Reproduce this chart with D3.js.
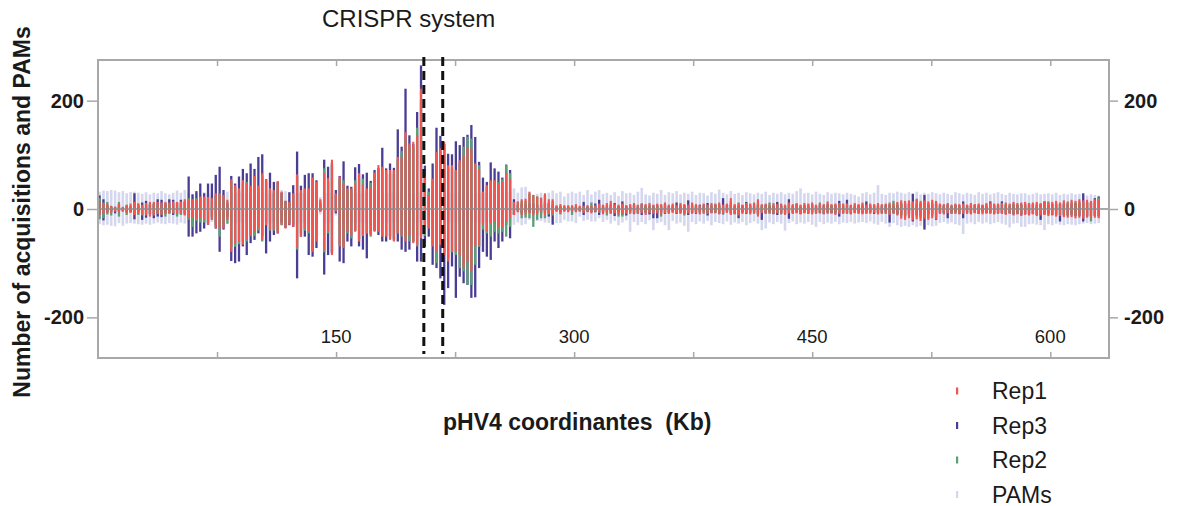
<!DOCTYPE html>
<html>
<head>
<meta charset="utf-8">
<script src="https://cdn.jsdelivr.net/npm/d3@7"></script>
<style>
  html, body { margin: 0; background: #fff; }
  svg { display: block; }
  text { font-family: "Liberation Sans", Arial, Helvetica, sans-serif; fill: #1a1a1a; }
</style>
</head>
<body>
<svg id="chart" width="1179" height="506"></svg>
<script>
// Acquisition counts per 2.44 kb bin along pHV4: [plus strand, minus strand].
// Plus counts are drawn above zero, minus counts below.
const BIN_KB = 2.44;
const FIRST_BIN_KB = 1.0;

const rep1 = [
  [14,11],[10,8],[9,8],[6,7],[4,5],[9,6],[4,5],[7,7],[10,7],[13,11],[10,9],[8,10],[11,12],[13,14],[13,11],[13,8],[12,11],[13,9],[12,7],[14,8],[13,8],[14,9],[18,12],
  [18,17],[18,16],[18,18],[23,17],[23,20],[21,29],[20,20],[29,36],[29,36],[26,36],[17,20],
  [55,79],[44,63],[38,60],[53,66],[47,57],[43,48],[61,42],[43,36],[66,57],[55,30],[38,39],
  [35,39],[50,45],[32,29],[15,36],[13,29],[29,33],[64,71],[35,51],[38,36],[38,42],[58,79],[50,60],
  [18,5],[66,76],[57,42],[91,85],[29,5],[60,69],[47,72],[38,42],[38,48],[47,42],[66,60],
  [45,48],[38,45],[41,48],[67,42],[81,42],[78,51],[72,51],[72,57],[72,60],[96,45],[96,48],
  [142,60],[121,48],[124,63],[136,66],[222,54],[60,45],
  [26,36],[56,69],[105,79],[112,66],[124,85],[81,97],[81,79],[72,79],[90,85],[99,109],[113,97],
  [111,115],[84,69],[72,66],[32,29],[44,42],[53,26],[53,23],[47,33],[50,35],[66,23],[55,17],
  [13,11],[13,6],[18,11],[19,10],[32,8],[26,12],[23,10],[20,5],[29,11],[18,8],[18,10],
  [7,4],[9,8],[7,5],[7,6],[7,5],[9,6],[6,5],[6,7],[7,6],[7,8],[7,5],[10,6],
  [8,10],[11,7],[15,9],[9,8],[8,10],[10,8],[7,9],[9,7],[11,10],[8,7],
  [10,8],[9,11],[11,7],[8,9],[10,8],[9,10],[12,8],[8,9],[10,7],[7,8],
  [11,9],[9,10],[8,7],[12,9],[9,8],[7,10],[10,7],[8,9],[11,8],[9,7],
  [12,10],[8,9],[10,7],[20,11],[9,8],[10,12],[8,9],[11,8],[9,10],[12,7],
  [18,14],[9,8],[10,9],[8,7],[11,10],[9,8],[10,9],[8,11],[12,8],[9,9],
  [10,7],[8,10],[11,8],[9,9],[12,10],[8,8],[10,7],[9,10],[14,9],[9,8],
  [10,11],[11,9],[9,8],[10,9],[8,10],[11,8],[9,9],[12,10],[8,8],[10,9],
  [9,7],[11,10],[9,9],[10,8],[12,11],[11,9],[13,12],[16,18],[15,20],[16,17],
  [14,21],[17,19],[15,22],[16,18],[14,20],[17,17],[15,19],[10,9],[9,10],[11,8],
  [8,9],[10,8],[9,10],[10,9],[8,8],[11,10],[9,8],[10,9],[8,10],[11,8],
  [12,9],[10,10],[9,8],[11,9],[12,11],[10,9],[13,12],[11,10],[12,13],[13,11],
  [11,12],[12,10],[13,13],[11,12],[14,11],[12,13],[13,12],[15,14],[12,13],[16,15],
  [14,16],[17,15],[15,17],[18,16],[16,18],[17,16],[15,17],[18,16],[18,17]
];

const rep2 = [
  [20,19],[12,17],[13,10],[5,12],[3,4],[13,14],[3,3],[8,11],[6,5],[9,10],[10,11],[6,12],[8,9],[10,10],[9,12],[10,9],[8,9],[11,14],[9,9],[10,8],[10,14],[11,11],[13,10],
  [20,20],[18,33],[20,22],[20,25],[20,25],[22,25],[14,20],[25,30],[28,51],[22,30],[14,27],
  [50,70],[40,70],[35,65],[48,60],[50,60],[40,50],[55,50],[40,40],[60,60],[50,27],[35,40],
  [30,40],[45,40],[28,30],[14,30],[12,25],[25,30],[60,75],[30,45],[35,40],[35,45],[55,75],[45,55],
  [15,3],[75,80],[50,45],[80,80],[25,3],[55,65],[53,70],[35,45],[35,54],[53,40],[60,55],
  [56,50],[35,45],[48,51],[62,40],[75,40],[70,50],[65,50],[65,55],[65,55],[90,45],[107,51],
  [130,55],[115,60],[115,60],[150,69],[200,50],[55,50],
  [32,35],[50,65],[100,100],[105,65],[110,80],[75,90],[75,80],[70,85],[85,109],[115,115],[133,140],
  [130,140],[80,103],[81,70],[30,38],[40,45],[50,51],[50,42],[50,45],[55,42],[81,51],[66,33],
  [12,10],[14,5],[15,17],[15,16],[28,17],[26,33],[23,20],[21,17],[25,17],[12,10],[15,12],
  [5,5],[6,10],[5,4],[5,4],[5,11],[6,5],[4,4],[4,5],[5,5],[12,6],[5,4],[8,7],
  [6,8],[8,12],[10,6],[7,6],[6,14],[8,14],[5,6],[7,9],[8,7],[6,9],
  [7,6],[7,8],[8,6],[7,6],[6,7],[7,14],[9,7],[6,8],[8,6],[5,6],
  [8,7],[7,12],[6,8],[9,7],[7,6],[5,8],[8,9],[6,7],[8,6],[10,8],
  [9,7],[6,8],[8,6],[14,9],[7,10],[12,8],[6,7],[8,6],[10,8],[9,9],
  [12,10],[7,6],[8,7],[12,9],[8,8],[7,6],[8,10],[6,8],[9,7],[7,6],
  [8,8],[6,7],[8,6],[10,8],[9,7],[6,9],[12,6],[7,8],[10,7],[7,6],
  [8,9],[8,7],[10,9],[8,7],[6,8],[8,6],[7,8],[9,7],[6,9],[8,7],
  [7,6],[8,8],[7,7],[8,9],[9,8],[15,7],[10,9],[12,14],[11,15],[12,13],
  [11,16],[19,14],[12,17],[13,14],[11,17],[13,13],[12,15],[8,7],[7,8],[8,6],
  [6,7],[8,9],[7,8],[8,7],[6,9],[8,7],[7,6],[8,8],[6,7],[9,6],
  [9,8],[8,7],[10,9],[8,7],[9,8],[8,7],[10,9],[8,8],[9,10],[10,9],
  [8,9],[9,8],[10,10],[8,9],[11,8],[14,10],[10,9],[11,11],[9,10],[12,12],
  [11,12],[13,12],[12,13],[14,13],[12,14],[13,12],[12,23],[14,13],[21,14]
];

const rep3 = [
  [25,8],[18,21],[6,6],[4,5],[4,8],[8,5],[2,4],[5,6],[4,6],[29,19],[6,5],[12,20],[15,16],[8,9],[10,17],[18,14],[17,15],[10,8],[18,8],[17,11],[12,10],[17,8],[14,10],
  [60,51],[27,51],[33,45],[47,42],[29,36],[47,29],[47,15],[63,36],[78,79],[35,38],[10,15],
  [61,96],[47,100],[60,97],[74,69],[66,85],[84,63],[74,57],[96,45],[101,50],[55,82],[67,60],
  [50,48],[51,45],[30,25],[15,35],[31,30],[44,33],[106,128],[43,51],[63,51],[66,85],[66,88],[53,72],
  [10,4],[91,121],[78,85],[85,82],[35,8],[61,97],[88,100],[43,60],[41,69],[77,40],[83,69],
  [64,75],[67,91],[52,45],[72,40],[75,48],[113,60],[75,60],[84,50],[76,58],[147,60],[115,75],
  [222,79],[136,75],[120,60],[179,97],[265,97],[80,70],
  [38,51],[84,103],[150,109],[135,128],[120,177],[102,146],[101,106],[125,164],[118,125],[133,137],[137,140],
  [155,164],[133,163],[87,109],[58,79],[50,88],[86,94],[75,60],[69,72],[58,60],[82,30],[72,54],
  [18,11],[8,3],[10,8],[8,5],[10,6],[10,8],[8,6],[8,8],[12,6],[10,14],[8,29],
  [4,3],[5,5],[3,3],[4,3],[4,4],[4,3],[3,3],[13,11],[4,4],[4,5],[10,6],[17,11],
  [5,6],[4,5],[6,8],[11,13],[5,6],[14,11],[6,12],[4,5],[8,9],[5,8],
  [10,11],[6,7],[5,10],[5,17],[7,17],[5,6],[8,9],[5,7],[6,5],[12,9],
  [5,6],[7,8],[16,11],[6,7],[5,9],[8,6],[6,5],[11,12],[5,7],[7,6],
  [6,9],[20,10],[7,5],[8,7],[5,9],[6,17],[7,6],[13,9],[6,7],[5,6],
  [8,9],[6,20],[7,8],[5,6],[6,9],[13,11],[6,7],[5,9],[18,18],[6,8],
  [10,6],[5,9],[7,7],[6,8],[8,6],[5,7],[7,8],[6,9],[8,6],[6,8],
  [7,7],[15,14],[6,7],[17,8],[6,9],[5,7],[7,6],[6,8],[14,7],[6,6],
  [7,9],[5,7],[6,8],[7,6],[8,25],[6,8],[7,10],[9,11],[8,12],[10,9],
  [28,23],[9,11],[10,12],[26,38],[8,10],[9,9],[10,20],[7,8],[6,7],[8,17],
  [5,8],[7,6],[6,9],[14,17],[7,6],[6,8],[8,7],[6,9],[7,6],[5,8],
  [14,7],[7,9],[6,7],[14,8],[7,9],[6,8],[8,10],[7,9],[8,11],[7,9],
  [10,10],[8,9],[7,11],[9,20],[14,10],[8,9],[9,11],[8,10],[10,23],[9,11],
  [10,12],[9,11],[11,13],[10,12],[29,23],[12,14],[11,13],[20,12],[23,13]
];

const pams = [
  [32,28],[34,30],[33,29],[35,31],[34,32],[31,26],[33,31],[29,27],[31,26],[32,27],[30,28],[28,29],[31,27],[27,29],[30,27],[29,25],[33,27],[29,28],[27,26],[30,27],[34,29],[30,25],[35,27],
  [30,25],[28,26],[30,24],[27,25],[31,27],[28,26],[30,24],[27,28],[30,26],[29,25],[32,28],
  [30,26],[28,27],[31,25],[29,27],[30,26],[28,24],[30,27],[31,25],[29,26],[30,24],[28,27],
  [30,25],[32,28],[35,30],[33,27],[30,26],[31,28],[30,27],[29,25],[30,26],[28,27],[30,25],[29,26],
  [22,10],[30,27],[29,26],[30,25],[28,12],[30,26],[29,27],[30,25],[28,26],[30,27],[29,25],
  [30,26],[31,27],[29,25],[30,26],[28,27],[30,25],[29,26],[30,27],[31,25],[29,26],[30,27],
  [28,25],[30,26],[29,27],[30,25],[31,26],[30,26],
  [30,25],[29,26],[30,27],[28,25],[30,26],[29,27],[30,25],[31,26],[29,27],[30,25],[28,26],
  [30,27],[29,25],[30,26],[31,27],[29,25],[30,26],[28,27],[30,25],[29,26],[30,27],[31,25],
  [38,29],[30,25],[40,30],[41,28],[30,20],[25,22],[28,22],[30,22],[26,25],[30,26],[34,25],
  [29,26],[32,26],[23,20],[29,23],[32,23],[29,26],[32,14],[26,22],[35,20],[27,23],[32,23],[35,17],
  [28,24],[30,20],[26,27],[31,22],[24,30],[33,25],[29,21],[30,42],[26,24],[32,30],
  [39,24],[27,28],[25,21],[30,39],[28,26],[35,24],[26,30],[31,39],[29,22],[33,27],
  [27,25],[30,31],[28,42],[32,24],[26,28],[30,23],[29,27],[25,22],[31,30],[28,24],
  [36,26],[30,28],[27,23],[33,29],[28,25],[30,27],[26,24],[31,30],[29,26],[27,23],
  [30,27],[28,39],[32,36],[26,25],[30,28],[28,24],[31,27],[27,40],[30,26],[28,23],
  [33,28],[38,25],[29,27],[30,24],[27,29],[32,33],[28,24],[26,28],[31,25],[28,27],
  [30,24],[29,28],[27,25],[30,26],[28,24],[26,27],[23,25],[29,24],[31,26],[27,23],
  [30,27],[44,29],[28,24],[26,27],[30,33],[29,26],[32,30],[30,33],[28,31],[31,33],
  [29,30],[32,33],[27,31],[30,33],[28,30],[31,32],[29,31],[27,26],[30,24],[28,27],
  [26,25],[31,28],[29,30],[27,46],[30,27],[28,25],[26,28],[31,24],[28,27],[30,25],
  [27,28],[29,26],[31,24],[28,27],[26,29],[30,34],[28,27],[27,26],[29,33],[29,33],
  [26,28],[28,27],[30,29],[27,30],[28,39],[29,28],[27,30],[30,27],[26,29],[28,30],
  [27,28],[29,29],[27,30],[28,28],[26,27],[25,26],[27,28],[26,27],[25,26]
];

// CRISPR locus boundaries (kb)
const crisprKb = [205.3, 217.2];

const xTickKb = [75, 150, 225, 300, 375, 450, 525, 600];
const xLabelKb = [150, 300, 450, 600];
const yTicks = [-200, 0, 200];

const legendItems = [
  { name: "Rep1", color: "#f2554f" },
  { name: "Rep3", color: "#4a3d94" },
  { name: "Rep2", color: "#5c9f72" },
  { name: "PAMs", color: "#d4d7ee" }
];

// ---------------------------------------------------------------
const svg = d3.select("#chart");
const plot = { left: 98, right: 1109, top: 60, bottom: 358 };

const x = d3.scaleLinear().domain([0, 637]).range([plot.left, plot.right]);
const y = d3.scaleLinear().domain([-275, 275]).range([plot.bottom, plot.top]);
const binCenter = i => FIRST_BIN_KB + i * BIN_KB;
const colorOf = name => legendItems.find(d => d.name === name).color;

// Bars, back to front: PAMs, Rep3, Rep2, Rep1 (each spans from +plus to -minus)
const layers = [
  { name: "PAMs", data: pams, w: 2.6 },
  { name: "Rep3", data: rep3, w: 2.3 },
  { name: "Rep2", data: rep2, w: 2.3 },
  { name: "Rep1", data: rep1, w: 2.1 }
];

const barsG = svg.append("g").attr("class", "bars");
layers.forEach(layer => {
  barsG.append("g")
    .attr("fill", colorOf(layer.name))
    .selectAll("rect")
    .data(layer.data)
    .join("rect")
    .attr("x", (d, i) => x(binCenter(i)) - layer.w / 2)
    .attr("y", d => y(d[0]))
    .attr("width", layer.w)
    .attr("height", d => y(-d[1]) - y(d[0]));
});

// zero line
svg.append("line")
  .attr("x1", plot.left).attr("x2", plot.right)
  .attr("y1", y(0)).attr("y2", y(0))
  .attr("stroke", "#8c8c8c").attr("stroke-width", 1.3);

// frame
svg.append("rect")
  .attr("x", plot.left).attr("y", plot.top)
  .attr("width", plot.right - plot.left).attr("height", plot.bottom - plot.top)
  .attr("fill", "none").attr("stroke", "#a8a8a8").attr("stroke-width", 2);

// x ticks, pointing inwards on top and bottom
const xAxisBottom = d3.axisBottom(x).tickValues(xTickKb).tickSizeInner(-6).tickSizeOuter(0).tickFormat("");
const xAxisTop = d3.axisTop(x).tickValues(xTickKb).tickSizeInner(-6).tickSizeOuter(0).tickFormat("");
[svg.append("g").attr("transform", `translate(0,${plot.bottom})`).call(xAxisBottom),
 svg.append("g").attr("transform", `translate(0,${plot.top})`).call(xAxisTop)]
  .forEach(g => {
    g.select(".domain").remove();
    g.selectAll(".tick line").attr("stroke", "#a8a8a8").attr("stroke-width", 1.5);
  });

// x labels inside the plot area
svg.append("g").selectAll("text")
  .data(xLabelKb).join("text")
  .attr("x", d => x(d)).attr("y", 343)
  .attr("text-anchor", "middle")
  .style("font-size", "18.5px")
  .text(d => d);

// y axes (plain hyphen for negative values)
const yFormat = d => String(d);
const yLeft = svg.append("g").attr("transform", `translate(${plot.left},0)`)
  .call(d3.axisLeft(y).tickValues(yTicks).tickFormat(yFormat)
    .tickSizeInner(11).tickSizeOuter(0).tickPadding(3));
const yRight = svg.append("g").attr("transform", `translate(${plot.right},0)`)
  .call(d3.axisRight(y).tickValues(yTicks).tickFormat(yFormat)
    .tickSizeInner(9).tickSizeOuter(0).tickPadding(6));
[yLeft, yRight].forEach(g => {
  g.select(".domain").remove();
  g.selectAll(".tick line").attr("stroke", "#a8a8a8").attr("stroke-width", 1.5);
  g.selectAll(".tick text")
    .attr("fill", "#1a1a1a")
    .style("font-family", '"Liberation Sans", Arial, sans-serif')
    .style("font-size", "20px").style("font-weight", "bold");
});

// CRISPR locus markers
svg.append("g").selectAll("line")
  .data(crisprKb).join("line")
  .attr("x1", d => x(d)).attr("x2", d => x(d))
  .attr("y1", plot.top - 3).attr("y2", plot.bottom - 4)
  .attr("stroke", "#111").attr("stroke-width", 3)
  .attr("stroke-dasharray", "9,5");

svg.append("text")
  .attr("x", 322).attr("y", 27)
  .style("font-size", "24px")
  .text("CRISPR system");

// axis titles
svg.append("text")
  .attr("transform", "translate(30,212) rotate(-90)")
  .attr("text-anchor", "middle")
  .style("font-size", "23px").style("font-weight", "bold")
  .text("Number of acquisitions and PAMs");

svg.append("text")
  .attr("x", 443).attr("y", 430)
  .style("font-size", "23px").style("font-weight", "bold")
  .style("white-space", "pre")
  .text("pHV4 coordinantes  (Kb)");

// legend
const legend = svg.append("g").attr("transform", "translate(957,391)");
const item = legend.selectAll("g").data(legendItems).join("g")
  .attr("transform", (d, i) => `translate(0,${i * 34.5})`);
item.append("rect")
  .attr("x", -1).attr("y", -3.5).attr("width", 2.2).attr("height", 7)
  .attr("fill", d => d.color);
item.append("text")
  .attr("x", 35).attr("y", 8)
  .style("font-size", "23px")
  .text(d => d.name);
</script>
</body>
</html>
